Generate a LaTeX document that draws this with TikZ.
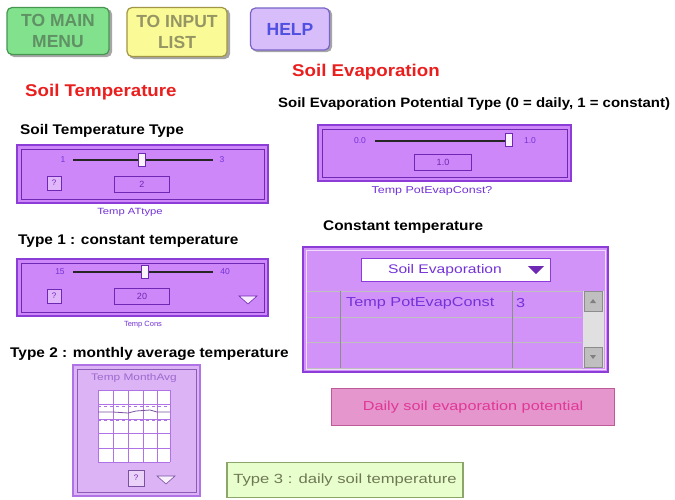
\documentclass[tikz,border=0pt]{standalone}
\usepackage{fontspec}
\setmainfont{Liberation Sans}
\newfontfamily\wideA[FakeStretch=1.1]{Liberation Sans}
\newfontfamily\wideB[FakeStretch=1.25]{Liberation Sans}
\definecolor{gbtn}{RGB}{130,225,140}
\definecolor{gbtnb}{RGB}{70,150,80}
\definecolor{gbtnt}{RGB}{95,145,100}
\definecolor{ybtn}{RGB}{250,250,150}
\definecolor{ybtnb}{RGB}{160,150,70}
\definecolor{ybtnt}{RGB}{150,150,100}
\definecolor{hbtn}{RGB}{215,190,250}
\definecolor{hbtnb}{RGB}{120,100,200}
\definecolor{hbtnt}{RGB}{80,80,225}
\definecolor{ttlred}{RGB}{235,30,30}
\definecolor{pfill}{RGB}{205,135,248}
\definecolor{pdraw}{RGB}{140,60,215}
\definecolor{pdark}{RGB}{110,40,180}
\definecolor{plabel}{RGB}{115,50,215}
\definecolor{mfill}{RGB}{220,180,245}
\definecolor{mdraw}{RGB}{175,115,230}
\definecolor{pkfill}{RGB}{228,150,205}
\definecolor{pkdraw}{RGB}{190,90,150}
\definecolor{pktext}{RGB}{225,55,150}
\definecolor{lgfill}{RGB}{232,255,205}
\definecolor{lgdraw}{RGB}{140,165,105}
\definecolor{lgtext}{RGB}{110,120,85}
\begin{document}
\begin{tikzpicture}[x=1pt,y=-1pt,
  btn/.style={rounded corners=5pt, line width=1.2pt, inner sep=0pt, align=center,
    font=\fontsize{17.5}{21}\selectfont\bfseries},
  shadowbox/.style={fill=black!35, rounded corners=5pt},
  heading/.style={anchor=west, inner sep=0pt, font=\wideA\fontsize{14}{15}\selectfont\bfseries},
  redtitle/.style={anchor=west, inner sep=0pt, text=ttlred, font=\wideA\fontsize{17}{18}\selectfont\bfseries},
  panel/.style={fill=pfill, draw=pdraw, line width=1.6pt},
  frame/.style={draw=pdark, line width=0.6pt},
  slider/.style={line width=2pt, black!85},
  thumb/.style={fill=white!90!pfill, draw=pdark, line width=0.6pt, minimum width=7pt, minimum height=13pt, inner sep=0pt},
  tick/.style={text=plabel, inner sep=0pt, font=\fontsize{8.5}{9}\selectfont},
  valbox/.style={draw=pdark, line width=1pt, fill=pfill, minimum width=55pt, minimum height=16pt, inner sep=0pt, text=pdark, font=\fontsize{9}{9}\selectfont},
  qbtn/.style={draw=pdark, line width=0.6pt, fill=pfill!60!white, minimum width=14pt, minimum height=14pt, inner sep=0pt, text=pdark, font=\fontsize{8}{8}\selectfont},
  varlabel/.style={text=plabel, inner sep=0pt, font=\wideB\fontsize{9}{10}\selectfont},
  cellline/.style={draw=black!45, line width=0.8pt},
  rowline/.style={draw=white!75!black, line width=1pt},
  scrollbtn/.style={fill=black!25, draw=black!45, line width=0.5pt, minimum width=18pt, minimum height=20pt, inner sep=0pt},
  celltext/.style={anchor=west, text=plabel, inner sep=0pt, font=\wideB\fontsize{13}{13}\selectfont}
]
\useasboundingbox (0,0) rectangle (675,499);
\fill[white] (0,0) rectangle (675,499);

% top buttons
\fill[shadowbox] (9,9) rectangle (112,57);
\node[btn, fill=gbtn, draw=gbtnb, text=gbtnt, minimum width=102pt, minimum height=47pt] (mainmenu) at (58,31) {TO MAIN\\MENU};
\fill[shadowbox] (129,9) rectangle (230,59);
\node[btn, fill=ybtn, draw=ybtnb, text=ybtnt, minimum width=100pt, minimum height=49pt] (inputlist) at (177,32) {TO INPUT\\LIST};
\fill[shadowbox] (252,9) rectangle (332,52);
\node[btn, fill=hbtn, draw=hbtnb, text=hbtnt, minimum width=79pt, minimum height=42pt] (help) at (290,29) {HELP};

% titles
\node[redtitle] (soilevap) at (292,72) {Soil Evaporation};
\node[redtitle] (soiltemp) at (25,92) {Soil Temperature};

% Soil temperature type panel
\node[heading] (h1) at (20,131) {Soil Temperature Type};
\draw[panel] (17,145) rectangle (268,203);
\draw[frame] (21,149) rectangle (264,199);
\draw[slider] (73,160) -- (213,160);
\node[thumb] (th1) at (142,160) {};
\node[tick] (t1a) at (63,160) {1};
\node[tick] (t1b) at (222,160) {3};
\node[qbtn] (q1) at (54,183) {?};
\node[valbox] (v1) at (142,184) {2};
\node[varlabel] (l1) at (130,212) {Temp ATtype};

% Type 1 panel
\node[heading] (h2) at (18,241) {Type 1 : constant temperature};
\draw[panel] (17,259) rectangle (268,316);
\draw[frame] (21,263) rectangle (264,312);
\draw[slider] (73,272) -- (213,272);
\node[thumb] (th2) at (145,272) {};
\node[tick] (t2a) at (60,272) {15};
\node[tick] (t2b) at (225,272) {40};
\node[qbtn] (q2) at (54,296) {?};
\node[valbox] (v2) at (142,296) {20};
\draw[pdark, fill=white!85!pfill, line width=0.6pt] (239,296) -- (257,296) -- (248,304) -- cycle;
\node[varlabel, font=\fontsize{7.5}{8}\selectfont] (l2) at (143,325) {Temp Cons};

% Type 2 panel
\node[heading] (h3) at (10,354) {Type 2 : monthly average temperature};
\draw[fill=mfill, draw=mdraw, line width=1.6pt] (73,365) rectangle (200,496);
\draw[draw=mdraw!80!black, line width=0.5pt] (77,369) rectangle (196,492);
\node[varlabel, text=mdraw!90!black, font=\wideB\fontsize{9.5}{10}\selectfont] (l3) at (134,378) {Temp MonthAvg};
\fill[white] (98,390) rectangle (170,462);
\foreach \xx in {98,113,128,143,157,170} \draw[mdraw, line width=0.6pt] (\xx,390) -- (\xx,462);
\foreach \yy in {390,404,419,433,448,462} \draw[mdraw, line width=0.6pt] (98,\yy) -- (170,\yy);
\draw[mdraw!70!black, line width=0.8pt] (98,412) -- (113,412) -- (128,413) -- (136,411) -- (150,410) -- (157,412) -- (170,412);
\draw[mdraw, line width=0.5pt, dashed] (98,406) -- (170,406);
\draw[mdraw, line width=0.5pt, dashed] (98,420) -- (170,420);
\node[qbtn, fill=mfill!60!white, draw=mdraw!70!black, minimum width=16pt, minimum height=16pt] (q3) at (136,478) {?};
\draw[mdraw!70!black, fill=white!80!mfill, line width=0.6pt] (157,476) -- (175,476) -- (166,484) -- cycle;

% Soil evaporation potential type panel
\node[heading, font=\wideA\fontsize{13.6}{15}\selectfont\bfseries] (h4) at (278,104) {Soil Evaporation Potential Type (0 = daily, 1 = constant)};
\draw[panel] (318,125) rectangle (571,181);
\draw[frame] (322,129) rectangle (567,177);
\draw[slider] (375,141) -- (510,141);
\node[thumb] (th4) at (509,140) {};
\node[tick] (t4a) at (360,141) {0.0};
\node[tick] (t4b) at (530,141) {1.0};
\node[valbox, minimum width=57pt] (v4) at (443,162) {1.0};
\node[varlabel, font=\wideB\fontsize{10}{10}\selectfont] (l4) at (432,191) {Temp PotEvapConst?};

% Constant temperature table
\node[heading] (h5) at (323,227) {Constant temperature};
\draw[panel, fill=pfill!90!white] (303,247) rectangle (608,372);
\draw[frame, draw=white!70!pfill] (306,250) rectangle (605,369);
\node[fill=white, draw=pdraw, line width=1pt, minimum width=189pt, minimum height=23pt, inner sep=0pt] (dd) at (456,270) {};
\node[text=plabel, inner sep=0pt, font=\wideB\fontsize{12.5}{12}\selectfont] (ddtext) at (445,270) {Soil Evaporation};
\fill[pdark] (528,266) -- (544,266) -- (536,274) -- cycle;
\foreach \yy in {291,317,342,368} \draw[rowline] (307,\yy) -- (582,\yy);
\draw[cellline] (340,291) -- (340,368);
\draw[cellline] (512,291) -- (512,368);
\fill[black!12] (583,291) rectangle (604,368);
\node[scrollbtn] (up) at (593,301) {};
\fill[black!50] (590,303) -- (596,303) -- (593,299) -- cycle;
\node[scrollbtn] (down) at (593,357) {};
\fill[black!50] (590,355) -- (596,355) -- (593,359) -- cycle;
\node[celltext] (cell1) at (346,303) {Temp PotEvapConst};
\node[celltext] (cell2) at (516,303) {3};

% pink button
\node[fill=pkfill, draw=pkdraw, line width=1.2pt, minimum width=283pt, minimum height=37pt, inner sep=0pt, text=pktext, font=\wideB\fontsize{13}{13}\selectfont] (daily) at (473,407) {Daily soil evaporation potential};

% type 3 box
\node[fill=lgfill, draw=lgdraw, line width=1.2pt, minimum width=236pt, minimum height=35pt, inner sep=0pt, text=lgtext, font=\wideB\fontsize{13.3}{13}\selectfont] (type3) at (345,480) {Type 3 : daily soil temperature};
\end{tikzpicture}
\end{document}
